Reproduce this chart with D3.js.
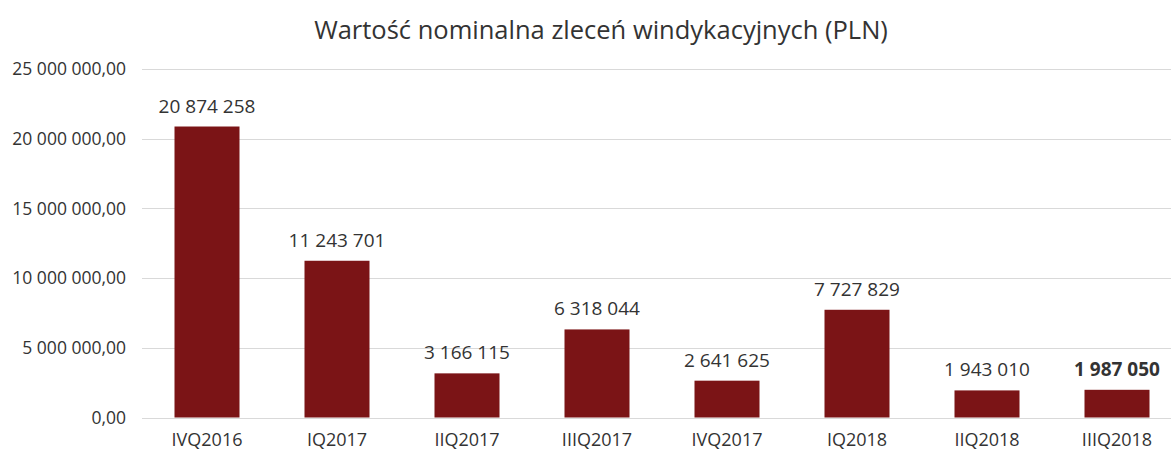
<!DOCTYPE html>
<html>
<head>
<meta charset="utf-8">
<script src="https://cdn.jsdelivr.net/npm/d3@7"></script>
<style>
  body { margin: 0; background: #fff; }
  text { font-family: "Open Sans", "Noto Sans", sans-serif; fill: #333; }
</style>
</head>
<body>
<div id="chart"></div>
<script>
// data
const quarters = ['IVQ2016', 'IQ2017', 'IIQ2017', 'IIIQ2017', 'IVQ2017', 'IQ2018', 'IIQ2018', 'IIIQ2018'];
const values = [20874258, 11243701, 3166115, 6318044, 2641625, 7727829, 1943010, 1987050];
const yTicks = [0, 5000000, 10000000, 15000000, 20000000, 25000000];
const boldLabels = ['IIIQ2018'];

const width = 1171, height = 450;
const margin = {top: 69, right: 0, bottom: 32, left: 142};

const svg = d3.select('#chart').append('svg')
    .attr('width', width)
    .attr('height', height);

// plot area runs a bit past the right edge, like the original crop
const x = d3.scaleBand()
    .domain(quarters)
    .range([margin.left, margin.left + 8 * 130])
    .paddingInner(0.5)
    .paddingOuter(0.25);

const y = d3.scaleLinear()
    .domain([0, 25000000])
    .range([height - margin.bottom - 0.5, margin.top]);

const fmtInt = d => d3.format(',')(d).replace(/,/g, ' ');
const fmtTick = d => d3.format(',.2f')(d).replace(/,/g, ' ').replace('.', ',');

// gridlines
svg.append('g')
  .selectAll('line')
  .data(yTicks)
  .join('line')
    .attr('x1', margin.left)
    .attr('x2', width)
    .attr('y1', d => Math.round(y(d)) + 0.5)
    .attr('y2', d => Math.round(y(d)) + 0.5)
    .attr('stroke', '#d9d9d9')
    .attr('stroke-width', 1);

// y axis labels
svg.append('g')
  .selectAll('text')
  .data(yTicks)
  .join('text')
    .attr('x', 126)
    .attr('y', d => y(d))
    .attr('dy', '0.35em')
    .attr('text-anchor', 'end')
    .style('font-size', '17.5px')
    .text(fmtTick);

// bars
svg.append('g')
  .selectAll('rect')
  .data(values)
  .join('rect')
    .attr('x', (d, i) => x(quarters[i]))
    .attr('y', d => y(d))
    .attr('width', x.bandwidth())
    .attr('height', d => y(0) - y(d))
    .attr('fill', '#7b1416');

// value labels
svg.append('g')
  .selectAll('text')
  .data(values)
  .join('text')
    .attr('x', (d, i) => x(quarters[i]) + x.bandwidth() / 2)
    .attr('y', d => y(d) - 14)
    .attr('text-anchor', 'middle')
    .style('font-size', '19px')
    .style('font-weight', (d, i) => boldLabels.includes(quarters[i]) ? 'bold' : 'normal')
    .text(fmtInt);

// category labels
svg.append('g')
  .selectAll('text')
  .data(quarters)
  .join('text')
    .attr('x', d => x(d) + x.bandwidth() / 2)
    .attr('y', 446)
    .attr('text-anchor', 'middle')
    .style('font-size', '18px')
    .text(d => d);

// title
svg.append('text')
    .attr('x', 601)
    .attr('y', 39)
    .attr('text-anchor', 'middle')
    .style('font-size', '25.5px')
    .text('Wartość nominalna zleceń windykacyjnych (PLN)');
</script>
</body>
</html>
